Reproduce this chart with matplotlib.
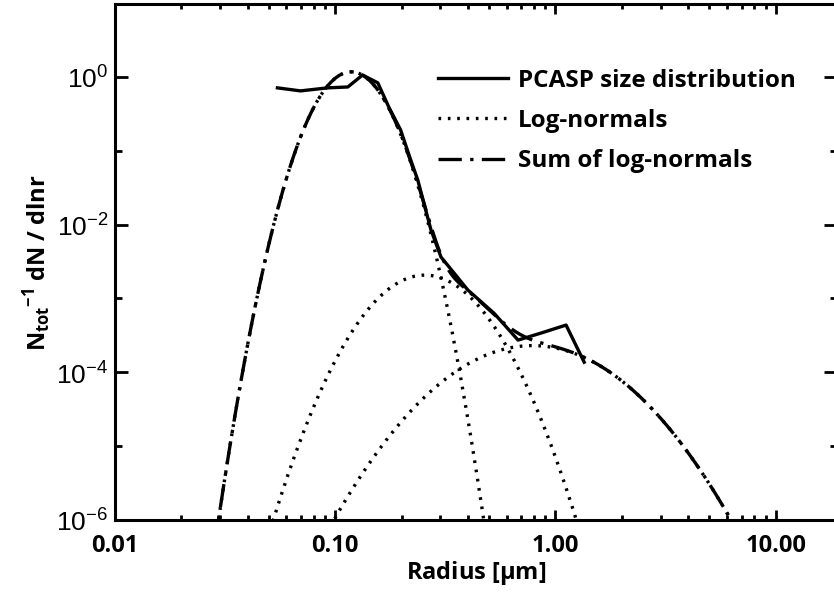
import numpy as np
import matplotlib
matplotlib.use("Agg")
import matplotlib.pyplot as plt
from matplotlib.ticker import FixedLocator, NullFormatter, FixedFormatter

plt.rcParams['font.family'] = ['Open Sans', 'DejaVu Sans']
plt.rcParams['mathtext.fontset'] = 'custom'
plt.rcParams['mathtext.rm'] = 'Liberation Sans'
plt.rcParams['mathtext.bf'] = 'Open Sans:bold'

pcasp_radius = [0.0546, 0.0695, 0.0923, 0.114, 0.133, 0.156, 0.175, 0.198, 0.220,
                0.237, 0.272, 0.302, 0.400, 0.526, 0.676, 0.860, 1.117, 1.35]
pcasp_dn = [0.71, 0.646, 0.71, 0.73, 1.06, 0.83, 0.39, 0.191, 0.075,
            0.040, 0.00845, 0.00364, 0.0013, 6.3e-4, 2.73e-4, 3.4e-4, 4.36e-4, 1.37e-4]

# fitted log-normal modes: median radius, peak value, geometric std dev
mode_radius = [0.118, 0.255, 0.786]
mode_peak = [1.17, 2.07e-3, 2.3e-4]
mode_sigma = [1.30, 1.50, 1.877]

r = np.logspace(-2, 1.3, 800)
modes = []
for rm, a, sg in zip(mode_radius, mode_peak, mode_sigma):
    modes.append(a * np.exp(-np.log(r / rm) ** 2 / (2 * np.log(sg) ** 2)))
total = np.sum(modes, axis=0)

fig = plt.figure(figsize=(8.34, 5.92), dpi=100)
ax = fig.add_axes([0.138, 0.1216, 0.866, 0.8708])

ax.plot(pcasp_radius, pcasp_dn, color='black', lw=2.4, label='PCASP size distribution')
for i, m in enumerate(modes):
    ax.plot(r, m, color='black', lw=2.4, dashes=(0.8, 2.0),
            label='Log-normals' if i == 0 else None)
ax.plot(r, total, color='black', lw=2.4, dashes=(7, 2.5, 1, 2.5),
        label='Sum of log-normals')

ax.set_xscale('log')
ax.set_yscale('log')
ax.set_xlim(0.01, 10 ** 1.28)
ax.set_ylim(1e-6, 10 ** 0.98)

ax.xaxis.set_major_locator(FixedLocator([0.01, 0.1, 1, 10]))
ax.xaxis.set_major_formatter(FixedFormatter(['0.01', '0.10', '1.00', '10.00']))
xminor = [k * 10.0 ** e for e in range(-2, 2) for k in range(2, 10)]
ax.xaxis.set_minor_locator(FixedLocator(xminor))
ax.xaxis.set_minor_formatter(NullFormatter())

ax.yaxis.set_major_locator(FixedLocator([1e-6, 1e-4, 1e-2, 1]))
ax.yaxis.set_major_formatter(FixedFormatter([r'$10^{-6}$', r'$10^{-4}$', r'$10^{-2}$', r'$10^{0}$']))
ax.yaxis.set_minor_locator(FixedLocator([1e-5, 1e-3, 1e-1]))
ax.yaxis.set_minor_formatter(NullFormatter())

for s in ax.spines.values():
    s.set_linewidth(2.2)
ax.tick_params(axis='both', which='both', direction='in', top=True, right=True, width=2.0)
ax.tick_params(axis='x', which='major', length=7.5, labelsize=17, pad=10)
ax.tick_params(axis='x', which='minor', length=3.8)
ax.tick_params(axis='y', which='major', length=9.5, labelsize=19, pad=5)
ax.tick_params(axis='y', which='minor', length=5)
for lab in ax.get_xticklabels():
    lab.set_fontweight('bold')

ax.set_xlabel(r'Radius [$\mathbf{\mu}$m]', fontsize=17, fontweight='bold', labelpad=1)
ax.set_ylabel(r'$\mathbf{N_{tot}}^{\mathbf{-1}}$ dN / dlnr', fontsize=17,
              fontweight='bold', labelpad=2)

ax.legend(loc='upper left', bbox_to_anchor=(0.43, 0.899), frameon=False,
          prop={'family': 'Open Sans', 'weight': 'bold', 'size': 17.5},
          handlelength=2.9, handletextpad=0.4, labelspacing=0.67, borderpad=0)

fig.savefig('out.png', dpi=100)
